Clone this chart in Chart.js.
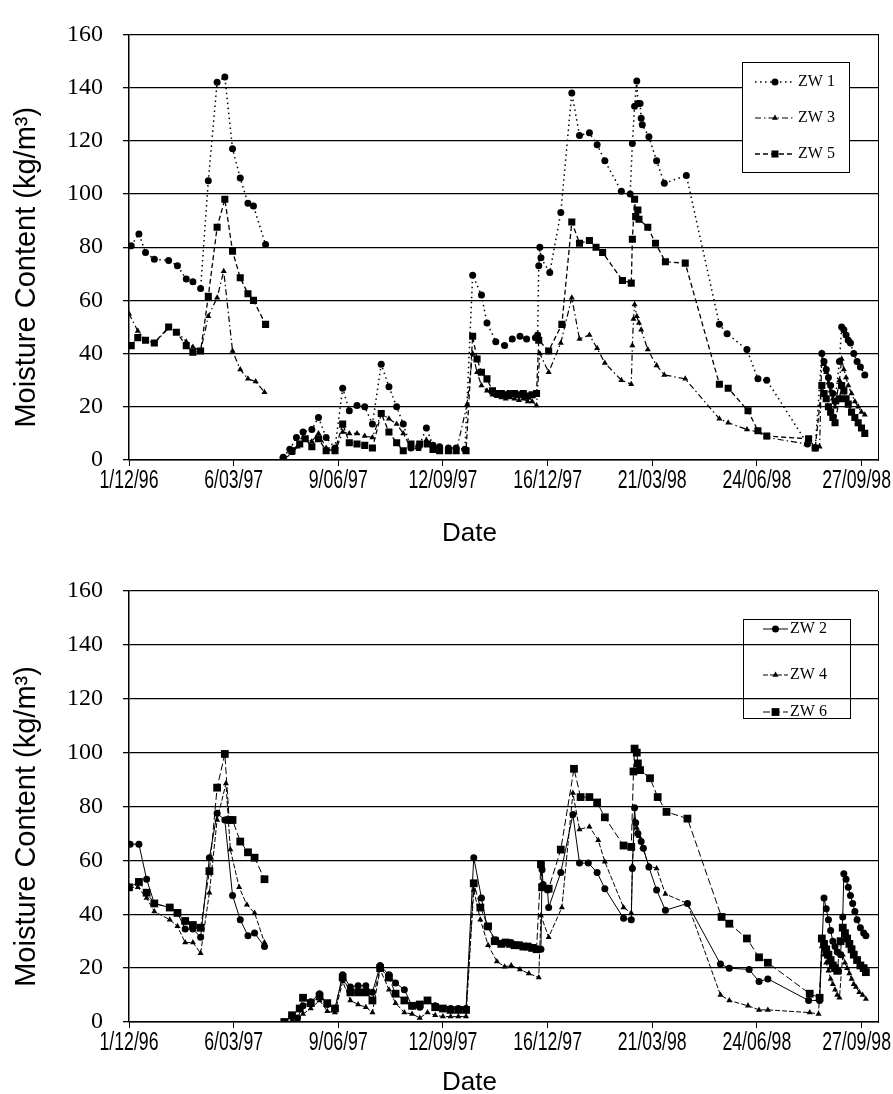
<!DOCTYPE html>
<html>
<head>
<meta charset="utf-8">
<script src="https://cdn.jsdelivr.net/npm/chart.js@4.4.1/dist/chart.umd.min.js"></script>
<style>
  html, body { margin: 0; padding: 0; background: #fff; }
  canvas { display: block; }
</style>
</head>
<body>
<canvas id="topChart" width="893" height="548"></canvas>
<canvas id="bottomChart" width="893" height="546"></canvas>
<script>
// x values are days since 1/12/96, ticks every 95 days
const tickStep = 95;
const dateTicks = ['1/12/96', '6/03/97', '9/06/97', '12/09/97', '16/12/97', '21/03/98', '24/06/98', '27/09/98'];

// ---- top panel ----
const zw1Days = [2,9,15,23,36,44,52,58,65,72,80,87,94,101,108,113,124,132,
  140,146,152,158,166,172,179,187,194,200,207,214,221,229,236,243,249,256,263,270,276,282,290,297,305,
  312,320,325,333,341,348,355,361,369,371,372,373,374,382,392,402,409,418,425,432,447,455,457,459,461,462,464,465,466,472,479,486,506,536,543,561,571,579,616,623,
  629,631,633,635,637,639,641,645,647,649,651,653,655,658,661,664,668];
const zw1Vals = [80.5,85,78,75.5,75,73,68,67,64.5,105,142,144,117,106,96.5,95.5,81,null,
  1,4,8.5,10.5,11.5,16,8.5,4.5,27,18.5,20.5,20,13.5,36,27.5,20,13.5,4.5,5,12,5.5,5,4.5,4.5,4,
  69.5,62,51.5,44.5,43,45.5,46.5,45.5,46,47,73,80,76,70.5,93,138,122,123,118.5,112.5,101,100,119,133,142.5,134,134,128.5,126,121.5,112.5,104,107,51,47.5,41.5,30.5,30,6,4.5,
  40,37,34,31,28,25,22,37,50,49,47,45,44,40,37,35,32];

const zw3Days = [0,8,15,23,36,44,52,58,65,72,80,86,94,101,108,115,123,132,
  141,148,153,158,166,172,179,187,194,200,207,214,221,229,236,243,249,256,263,270,276,282,290,297,307,
  312,316,320,325,330,334,338,342,346,350,354,358,362,366,370,373,381,392,402,409,418,425,432,447,456,457,458,459,461,463,465,471,479,486,505,536,544,561,571,579,615,623,
  627,629,631,633,635,637,639,641,645,647,649,651,653,656,659,662,665,668];
const zw3Vals = [55,48.5,45,44,49.5,48,44.5,42.5,41,54,61,71,41,34,30.5,29.5,25.5,null,
  0.5,2.5,5,8.5,7,10,4.5,3,10.5,10,10,9,8.5,17.5,15.5,13.5,10,4.5,4,7.5,4,3.5,3,3,21,
  40,33,28,26,24.5,24,23.5,23,23.5,23,22.5,23,22,22,20.5,40,33,44,61,45.5,47,42,36.5,30,28.5,43,53,58.5,54,51.5,49,41.5,35.5,32,30.5,15.5,14,11.5,10.5,8.5,6,5,
  5,40,36,33,29,26,23,20,30,38,34,31,28,25,22,20,18,17];

const zw5Days = [2,8,15,23,36,43,52,58,65,72,80,87,94,101,108,113,124,132,
  140,148,155,160,166,172,179,187,194,200,207,214,221,229,236,243,249,256,264,271,276,282,290,297,306,
  312,316,320,325,330,334,338,342,346,350,354,358,362,366,370,372,381,393,402,409,418,424,430,448,456,457,459,460,462,463,471,478,487,505,536,544,562,571,579,617,623,
  629,631,633,635,637,639,641,645,647,649,651,653,656,659,662,665,668];
const zw5Vals = [43,46,45,44,50,48,43,40.5,41,61.5,87.5,98,78.5,68.5,62.5,60,51,null,
  0,3.5,6,8,5,8,3.5,3.5,13.5,6.5,6,5.5,4.5,17.5,10.5,6.5,3.5,6,6,6,4,3.5,3.5,3.5,3.5,
  46.5,38,33,30.5,26,25,25,24.5,25,25,24.5,25,24,24.5,25,45,41,51,89.5,81.5,82.5,80,78,67.5,66.5,83,98,91.5,94,90.5,87.5,81.5,74.5,74,28.5,27,18.5,11,9,8,4.5,
  28,25,23,20,18,16,14,23,28,26,23,21,18,16,14,12,10];

// ---- bottom panel ----
const zw2Days = [1,9,16,23,37,44,51,58,65,73,80,87,94,101,108,114,123,132,
  141,148,153,158,165,173,180,187,194,201,208,215,221,228,236,242,250,257,264,271,278,285,292,299,306,
  313,320,325,333,340,347,354,361,368,374,375,376,380,381,392,403,409,417,425,432,449,456,457,459,460,462,465,467,472,479,487,507,537,545,563,572,580,617,627,
  631,633,635,637,639,641,643,646,648,649,651,653,655,657,659,661,664,667,669];
const zw2Vals = [66,66,53,44,42.5,40.5,34.5,34.5,31.5,61,77.5,75,47,38,32,33,28,null,
  0,2,1.5,6,7.5,10.5,6.5,5,17.5,13,13.5,13.5,11,21,17.5,14.5,12,6,5.5,8,6,5,5,5,5,
  61,46,35.5,30.5,29.5,29.5,28.5,28,27.5,27,56.5,51,49,42.5,55.5,77,59,59,55.5,49.5,38.5,38,57,79.5,74,70,67,64.5,57.5,49,41.5,44,21.5,20,19.5,15,16,8,8,
  46,42,38,34,30,28,26,25,39,55,53,50,47,44,41,38,35,33,32];

const zw4Days = [0,8,16,23,37,44,51,58,65,73,80,88,92,100,107,114,123,132,
  141,148,153,158,165,173,180,187,194,201,208,215,221,228,236,242,250,257,264,271,278,285,292,299,306,
  313,319,326,334,341,347,355,363,372,374,381,393,403,409,418,426,432,449,456,457,459,461,463,466,472,479,487,507,537,545,562,572,580,618,626,
  629,631,633,635,637,639,641,643,645,648,650,652,654,656,658,660,663,666,669];
const zw4Vals = [50,50,46,41,38,35.5,29.5,29.5,25.5,48,75,88.5,64,50,43.5,40.5,29.5,null,
  0,0.5,1,3,5,8,4,3.5,15,8,6.5,5.5,3.5,19.5,12,7,3.5,3,1.5,3.5,2.5,2,2,2,2,
  49,38,28.5,22.5,20.5,21,19.5,18,16.5,39.5,31.5,42.5,85,71.5,72.5,67.5,59.5,42.5,40.5,58,75,72,69,65,58,57,47.5,44,10,8,6,4.5,4.5,3.5,3,
  28,25,22,19,16,14,12,10,9,25,22,20,18,16,14,13,11,10,8.5];

const zw6Days = [0,9,16,23,37,44,51,58,65,73,80,87,91,94,101,108,114,123,132,
  141,148,155,158,165,173,180,187,194,201,208,215,221,228,236,242,250,257,264,271,278,285,292,299,306,
  313,319,326,332,338,342,346,350,354,358,362,366,370,374,375,381,392,404,410,418,425,432,449,456,458,459,461,462,464,473,480,488,507,538,545,561,572,580,618,627,
  629,631,633,635,637,639,641,643,646,648,650,652,654,656,658,661,664,667,669];
const zw6Vals = [50,52,48,44,42.5,40.5,37.5,36,35,56,87,99.5,75,75,67,63,61,53,null,
  0,2.5,5,9,7,9.5,7,5,16.5,11,11,11,8,20,16.5,10.5,8,6,6.5,8,5.5,5,4.5,4.5,4.5,
  51.5,42.5,35.5,30,29,29.5,29,28.5,28.5,28,28,27.5,27,58.5,50,49.5,64,94,83.5,83.5,81.5,76,65.5,65,93,101.5,100,96,93.5,90.5,83.5,78,75.5,39,36.5,31,24,22,10.5,9,
  31,29,27,25,23,21,20,19,30,35,33,31,29,27,25,23,21,20,18.5];

const serif = "'Liberation Serif', 'Times New Roman', serif";
const sans = "'Liberation Sans', Arial, sans-serif";

function points(days, vals) {
  return days.map((d, i) => ({ x: d, y: vals[i] }));
}

function series(label, days, vals, style, radius, dash, width) {
  return {
    label: label,
    data: points(days, vals),
    borderColor: '#000',
    backgroundColor: '#000',
    borderWidth: width,
    borderDash: dash,
    pointStyle: style,
    pointRadius: radius,
    pointBorderWidth: 0,
    pointBackgroundColor: '#000',
    tension: 0,
    spanGaps: false
  };
}

function drawMarker(ctx, style, x, y, r) {
  ctx.beginPath();
  if (style === 'circle') {
    ctx.arc(x, y, r, 0, Math.PI * 2);
  } else if (style === 'rect') {
    const s = r * Math.SQRT1_2;
    ctx.rect(x - s, y - s, 2 * s, 2 * s);
  } else {
    ctx.moveTo(x, y - r);
    ctx.lineTo(x - r * 0.866, y + r / 2);
    ctx.lineTo(x + r * 0.866, y + r / 2);
    ctx.closePath();
  }
  ctx.fill();
}

// boxed legend inside the plot, like the original
const boxLegend = {
  id: 'boxLegend',
  afterDatasetsDraw(chart, args, opts) {
    const { ctx, chartArea } = chart;
    const left = Math.round(chartArea.right - opts.dx);
    const top = Math.round(chartArea.top + opts.dy);
    ctx.save();
    if (opts.fill) {
      ctx.fillStyle = '#fff';
      ctx.fillRect(left, top, opts.w, opts.h);
    }
    ctx.strokeStyle = '#000';
    ctx.lineWidth = 1;
    ctx.strokeRect(left + 0.5, top + 0.5, opts.w, opts.h);
    chart.data.datasets.forEach((ds, i) => {
      const y = top + opts.rows[i];
      ctx.strokeStyle = '#000';
      ctx.lineWidth = ds.borderWidth;
      ctx.setLineDash(ds.borderDash || []);
      ctx.beginPath();
      ctx.moveTo(left + opts.s0, y);
      ctx.lineTo(left + opts.s1, y);
      ctx.stroke();
      ctx.setLineDash([]);
      ctx.fillStyle = '#000';
      drawMarker(ctx, ds.pointStyle, left + (opts.s0 + opts.s1) / 2, y, ds.pointRadius);
      ctx.font = '16px ' + serif;
      ctx.textBaseline = 'middle';
      ctx.fillText(ds.label, left + opts.tx, y);
    });
    ctx.restore();
  }
};

// condensed date labels (from the x scale's own ticks) and axis titles
const axisText = {
  id: 'axisText',
  afterDraw(chart, args, opts) {
    const { ctx, chartArea, scales } = chart;
    const xs = scales.x;
    const squeeze = 0.68;
    ctx.save();
    ctx.fillStyle = '#000';
    ctx.font = '26px ' + sans;
    ctx.textAlign = 'center';
    ctx.textBaseline = 'top';
    xs.ticks.forEach((t) => {
      if (!t.label) return;
      const w = ctx.measureText(t.label).width * squeeze;
      const x = Math.min(xs.getPixelForValue(t.value), chart.width - 2 - w / 2);
      ctx.save();
      ctx.translate(x, chartArea.bottom + 8);
      ctx.scale(squeeze, 1);
      ctx.fillText(t.label, 0, 0);
      ctx.restore();
    });

    ctx.textBaseline = 'alphabetic';
    ctx.fillText(opts.xTitle, (chartArea.left + chartArea.right) / 2 - 34, chartArea.bottom + opts.xTitleDy);

    ctx.font = '29px ' + sans;
    ctx.textBaseline = 'middle';
    ctx.translate(27, (chartArea.top + chartArea.bottom) / 2 + 20);
    ctx.rotate(-Math.PI / 2);
    ctx.fillText(opts.yTitle, 0, 0);
    ctx.restore();
  }
};

function makeChart(id, datasets, cfg) {
  return new Chart(document.getElementById(id), {
    type: 'line',
    data: { datasets: datasets },
    plugins: [boxLegend, axisText],
    options: {
      responsive: false,
      animation: false,
      devicePixelRatio: 1,
      layout: { padding: { top: cfg.padTop, right: 15, bottom: 0, left: 0 } },
      plugins: {
        legend: { display: false },
        tooltip: { enabled: false },
        boxLegend: cfg.legend,
        axisText: { xTitle: 'Date', yTitle: 'Moisture Content (kg/m³)', xTitleDy: cfg.dateDy }
      },
      scales: {
        x: {
          type: 'linear',
          min: 0,
          max: 680,
          afterFit(s) { s.height = cfg.xHeight; s.paddingLeft = 0; s.paddingRight = 0; },
          ticks: {
            display: false,
            stepSize: tickStep,
            includeBounds: false,
            autoSkip: false,
            callback: (v) => dateTicks[Math.round(v / tickStep)] || ''
          },
          grid: { drawOnChartArea: false, tickLength: 6, color: '#000', lineWidth: 1 },
          border: { color: '#000', width: 1.5 }
        },
        y: {
          min: 0,
          max: 160,
          afterFit(s) { s.width = 129; },
          ticks: { stepSize: 20, color: '#000', font: { family: serif, size: 24 }, padding: 20 },
          grid: { color: '#000', lineWidth: 1.3, tickLength: 6 },
          border: { color: '#000', width: 1.5 }
        },
        frame: {
          position: 'right',
          min: 0,
          max: 160,
          afterFit(s) { s.width = 0; },
          ticks: { display: false },
          grid: { display: false, drawTicks: false },
          border: { display: true, color: '#000', width: 1 }
        }
      }
    }
  });
}

makeChart('topChart', [
  series('ZW 1', zw1Days, zw1Vals, 'circle', 3.5, [1.5, 3.5], 1.5),
  series('ZW 3', zw3Days, zw3Vals, 'triangle', 3.5, [6, 3, 1.5, 3], 1.2),
  series('ZW 5', zw5Days, zw5Vals, 'rect', 5, [5, 3], 1.3)
], {
  padTop: 24, xHeight: 88, dateDy: 81,
  legend: { dx: 136, dy: 28, w: 107, h: 110, rows: [20, 56, 92], s0: 13, s1: 53, tx: 56, fill: true }
});

makeChart('bottomChart', [
  series('ZW 2', zw2Days, zw2Vals, 'circle', 3.5, [], 1),
  series('ZW 4', zw4Days, zw4Vals, 'triangle', 3.5, [5, 2], 1),
  series('ZW 6', zw6Days, zw6Vals, 'rect', 5.5, [7, 3], 1)
], {
  padTop: 43, xHeight: 72, dateDy: 68,
  legend: { dx: 135, dy: 28, w: 107, h: 99, rows: [10, 56, 93], s0: 20, s1: 45, tx: 47, fill: false }
});
</script>
</body>
</html>
